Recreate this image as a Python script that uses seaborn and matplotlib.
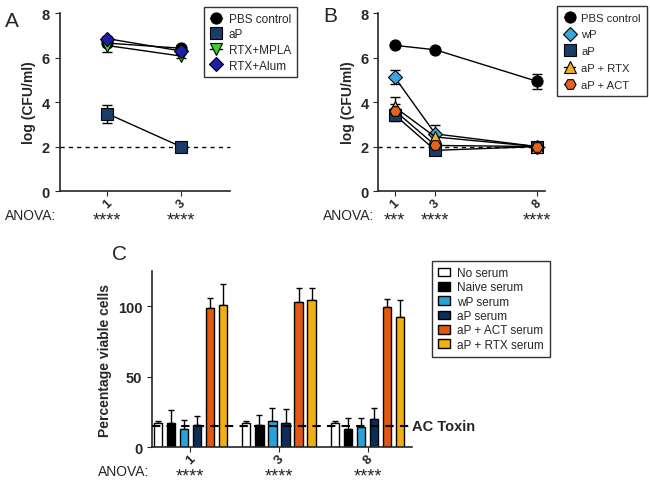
import numpy as np
import pandas as pd
import seaborn as sns
import matplotlib.pyplot as plt

# values
days_a = [1, 3]
pbs_a = [6.65, 6.42]
pbs_a_err = [0.15, 0.08]
ap_a = [3.48, 2.0]
ap_a_err = [0.4, 0.0]
mpla_a = [6.54, 6.07]
mpla_a_err = [0.3, 0.08]
alum_a = [6.85, 6.3]
alum_a_err = [0.1, 0.1]

days_b = [1, 3, 8]
pbs_b = [6.55, 6.35, 4.93]
pbs_b_err = [0.05, 0.06, 0.33]
wp_b = [5.12, 2.57, 2.0]
wp_b_err = [0.33, 0.38, 0.0]
ap_b = [3.43, 1.83, 2.0]
ap_b_err = [0.3, 0.05, 0.0]
rtx_b = [3.78, 2.43, 2.0]
rtx_b_err = [0.45, 0.2, 0.0]
act_b = [3.62, 2.05, 2.0]
act_b_err = [0.3, 0.15, 0.0]

groups = ['1', '3', '8']
sera = ['No serum', 'Naive serum', 'wP serum', 'aP serum', 'aP + ACT serum', 'aP + RTX serum']
no_serum = [16.9, 16.9, 16.9]
no_serum_err = [1.7, 1.4, 1.7]
naive_serum = [17.1, 15.5, 12.6]
naive_serum_err = [9.3, 7.6, 7.9]
wp_serum = [12.6, 18.3, 14.5]
wp_serum_err = [6.7, 9.8, 6.2]
ap_serum = [15.7, 16.9, 20.0]
ap_serum_err = [6.4, 10.5, 8.1]
act_serum = [98.8, 103.0, 99.5]
act_serum_err = [7.1, 10.0, 5.7]
rtx_serum = [101.2, 104.7, 92.4]
rtx_serum_err = [14.9, 8.3, 11.9]
ac_toxin = 14.8

anova_a = ['****', '****']
anova_b = ['***', '****', '****']
anova_c = ['****', '****', '****']

sns.set_style('ticks')
plt.rcParams['font.family'] = ['Liberation Sans', 'DejaVu Sans']

fig = plt.figure(figsize=(6.5, 4.85), dpi=100)
ax_a = fig.add_axes([0.092, 0.604, 0.262, 0.367])
ax_b = fig.add_axes([0.582, 0.604, 0.257, 0.367])
ax_c = fig.add_axes([0.234, 0.076, 0.400, 0.363])

navy = '#1b3c66'
leg_kw = dict(loc='upper left', frameon=True, fancybox=False, edgecolor='black', fontsize=8.5,
              handlelength=1.0, borderpad=0.5, labelspacing=0.3, handletextpad=0.6,
              borderaxespad=0)


def draw_series(ax, x, y, err, label, marker, color, ms=8):
    ax.errorbar(x, y, yerr=err, fmt='none', ecolor='black', elinewidth=1, capsize=3.5, zorder=2)
    sns.lineplot(x=x, y=y, ax=ax, color='black', lw=1, marker=marker, markersize=ms,
                 markerfacecolor=color, markeredgecolor='black', markeredgewidth=0.8,
                 label=label, zorder=3)


def style_line_axes(ax, days, xlim):
    ax.set_ylim(0, 8)
    ax.set_yticks([0, 2, 4, 6, 8])
    ax.set_xlim(*xlim)
    ax.set_xticks(days)
    ax.set_xticklabels([str(d) for d in days], rotation=45, fontweight='bold', fontsize=9)
    ax.tick_params(axis='x', pad=0.5)
    ax.tick_params(axis='y', labelsize=10.5)
    for t in ax.get_yticklabels():
        t.set_fontweight('bold')
    ax.axhline(2, color='black', ls=(0, (3, 3)), lw=1, zorder=1, clip_on=False)
    ax.set_ylabel('log (CFU/ml)', fontweight='bold', fontsize=10)
    ax.set_xlabel('')
    sns.despine(ax=ax)
    for s in ['left', 'bottom']:
        ax.spines[s].set_linewidth(1.2)


# Panel A
draw_series(ax_a, days_a, pbs_a, pbs_a_err, 'PBS control', 'o', 'black')
draw_series(ax_a, days_a, ap_a, ap_a_err, 'aP', 's', navy)
draw_series(ax_a, days_a, mpla_a, mpla_a_err, 'RTX+MPLA', 'v', '#3ccf2e')
draw_series(ax_a, days_a, alum_a, alum_a_err, 'RTX+Alum', 'D', '#1e1eaa', ms=7)
style_line_axes(ax_a, days_a, (-0.3, 4.35))
ax_a.legend(bbox_to_anchor=(0.847, 1.034), **leg_kw)

# Panel B
draw_series(ax_b, days_b, pbs_b, pbs_b_err, 'PBS control', 'o', 'black')
draw_series(ax_b, days_b, wp_b, wp_b_err, 'wP', 'D', '#3aa5d8', ms=7)
draw_series(ax_b, days_b, ap_b, ap_b_err, 'aP', 's', navy)
draw_series(ax_b, days_b, rtx_b, rtx_b_err, 'aP + RTX', '^', '#f2b31a')
draw_series(ax_b, days_b, act_b, act_b_err, 'aP + ACT', 'H', '#e8631e')
style_line_axes(ax_b, days_b, (0.2, 8.4))
leg_b = dict(leg_kw)
leg_b.update(fontsize=8.1, handletextpad=0.5, labelspacing=0.6, borderpad=0.6)
ax_b.legend(bbox_to_anchor=(1.072, 1.04), **leg_b)

# Panel C
bar_df = pd.DataFrame({
    'group': groups * 6,
    'serum': np.repeat(sera, 3),
    'value': no_serum + naive_serum + wp_serum + ap_serum + act_serum + rtx_serum,
    'err': no_serum_err + naive_serum_err + wp_serum_err + ap_serum_err + act_serum_err + rtx_serum_err,
})
bar_colors = ['white', 'black', '#27a2da', '#0c2d57', '#e2580f', '#f0b014']
sns.barplot(data=bar_df, x='group', y='value', hue='serum', hue_order=sera, order=groups,
            palette=bar_colors, saturation=1, width=0.88, gap=0.38, errorbar=None,
            edgecolor='black', linewidth=1, ax=ax_c, zorder=2)
bars = [p for p in ax_c.patches][:18]
for p, (_, row) in zip(bars, bar_df.iterrows()):
    cx = p.get_x() + p.get_width() / 2
    ax_c.errorbar([cx], [row['value']], yerr=[[0], [row['err']]], fmt='none', ecolor='black',
                  elinewidth=1, capsize=2.5, zorder=1)
ax_c.set_ylim(0, 125)
ax_c.set_yticks([0, 50, 100])
ax_c.set_xlim(-0.43, 2.5)
ax_c.set_xticks([0, 1, 2])
ax_c.set_xticklabels(groups, rotation=45, fontweight='bold', fontsize=9.5)
ax_c.tick_params(axis='x', pad=0.5)
ax_c.tick_params(axis='y', labelsize=10.5)
for t in ax_c.get_yticklabels():
    t.set_fontweight('bold')
ax_c.set_xlabel('')
ax_c.set_ylabel('Percentage viable cells', fontweight='bold', fontsize=10)
ax_c.plot([-0.43, 2.48], [ac_toxin, ac_toxin], color='black', ls=(0, (4, 3)), lw=1.5,
          zorder=3, clip_on=False)
ax_c.text(2.5, ac_toxin, 'AC Toxin', fontweight='bold', fontsize=10.5, va='center', ha='left')
sns.despine(ax=ax_c)
for s in ['left', 'bottom']:
    ax_c.spines[s].set_linewidth(1.2)
leg_c = dict(leg_kw)
leg_c.update(handleheight=0.75, labelspacing=0.2)
ax_c.legend(bbox_to_anchor=(1.077, 1.057), **leg_c)

# panel letters and ANOVA rows
fig.text(0.008, 0.955, 'A', fontsize=15, va='center')
fig.text(0.497, 0.965, 'B', fontsize=15, va='center')
fig.text(0.172, 0.475, 'C', fontsize=15, va='center')

fig.text(0.008, 0.555, 'ANOVA:', fontsize=10, va='center')
fig.text(0.497, 0.555, 'ANOVA:', fontsize=10, va='center')
fig.text(0.15, 0.027, 'ANOVA:', fontsize=10, va='center')

for ax, days, stars in [(ax_a, days_a, anova_a), (ax_b, days_b, anova_b), (ax_c, [0, 1, 2], anova_c)]:
    for d, s in zip(days, stars):
        ax.annotate(s, xy=(d, 0), xycoords=('data', 'axes fraction'), xytext=(0, -20.5),
                    textcoords='offset points', ha='center', va='center', fontsize=13)

plt.savefig('out.png', dpi=100)
